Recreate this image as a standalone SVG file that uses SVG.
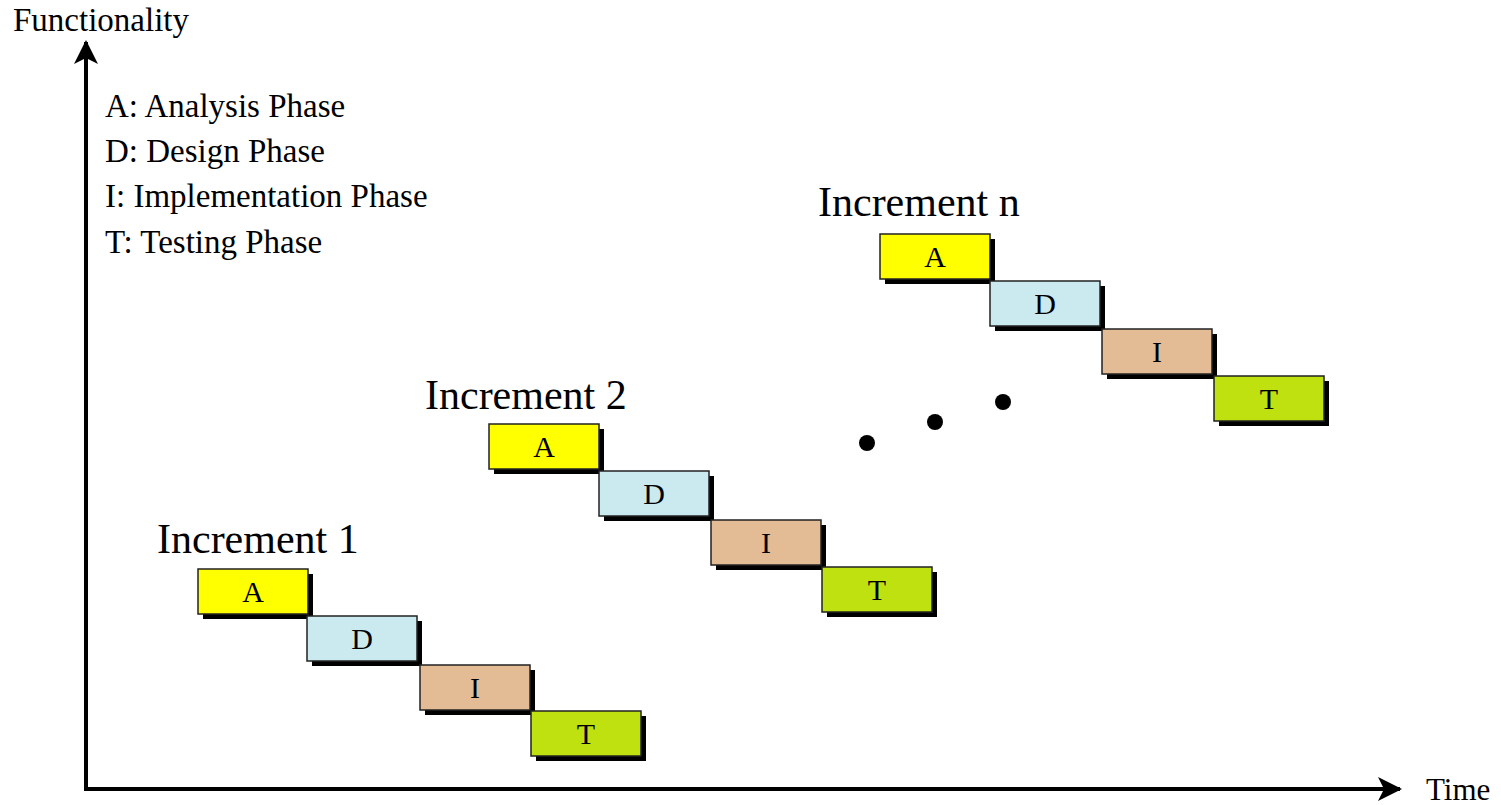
<svg xmlns="http://www.w3.org/2000/svg" width="1501" height="805" viewBox="0 0 1501 805">
<defs>
<style>
text{font-family:"Liberation Serif","Times New Roman",serif;fill:#000}
.sh{fill:#000}
.bx{stroke:#222;stroke-width:1.5}
.a{fill:#ffff00}.d{fill:#cbeaf0}.i{fill:#e3bb94}.t{fill:#bfe10f}
.lb{font-size:30px;text-anchor:middle}
.inc{font-size:42px}
.leg{font-size:33px}
.ax{stroke:#000;stroke-width:4;fill:none}
</style>
<marker id="ah" viewBox="0 0 24 24" refX="22" refY="12" markerWidth="24" markerHeight="24" markerUnits="userSpaceOnUse" orient="auto">
<path d="M0,0 L24,12 L0,24 L6,12 Z" fill="#000"/>
</marker>
</defs>
<rect width="1501" height="805" fill="#fff"/>
<g id="axes">
<path class="ax" d="M86,789 L86,42" marker-end="url(#ah)"/>
<path class="ax" d="M84,789 L1400,789" marker-end="url(#ah)"/>
<text x="13" y="31" class="leg">Functionality</text>
<text x="1426" y="800" class="leg" style="font-size:31px">Time</text>
</g>
<g id="legend">
<text x="105" y="117" class="leg">A: Analysis Phase</text>
<text x="105" y="162" class="leg">D: Design Phase</text>
<text x="105" y="207" class="leg">I: Implementation Phase</text>
<text x="105" y="253" class="leg">T: Testing Phase</text>
</g>
<g id="increment1">
<text x="157" y="553" class="inc">Increment 1</text>
<g id="inc1-A"><rect class="sh" x="203" y="574" width="110" height="45"/><rect class="bx a" x="198" y="569" width="110" height="45"/><text class="lb" x="253" y="602">A</text></g>
<g id="inc1-D"><rect class="sh" x="312" y="621" width="110" height="45"/><rect class="bx d" x="307" y="616" width="110" height="45"/><text class="lb" x="362" y="649">D</text></g>
<g id="inc1-I"><rect class="sh" x="425" y="670" width="110" height="45"/><rect class="bx i" x="420" y="665" width="110" height="45"/><text class="lb" x="475" y="698">I</text></g>
<g id="inc1-T"><rect class="sh" x="536" y="716" width="110" height="45"/><rect class="bx t" x="531" y="711" width="110" height="45"/><text class="lb" x="586" y="744">T</text></g>
</g>
<g id="increment2">
<text x="425" y="409" class="inc">Increment 2</text>
<g id="inc2-A"><rect class="sh" x="494" y="429" width="110" height="45"/><rect class="bx a" x="489" y="424" width="110" height="45"/><text class="lb" x="544" y="457">A</text></g>
<g id="inc2-D"><rect class="sh" x="604" y="476" width="110" height="45"/><rect class="bx d" x="599" y="471" width="110" height="45"/><text class="lb" x="654" y="504">D</text></g>
<g id="inc2-I"><rect class="sh" x="716" y="525" width="110" height="45"/><rect class="bx i" x="711" y="520" width="110" height="45"/><text class="lb" x="766" y="553">I</text></g>
<g id="inc2-T"><rect class="sh" x="827" y="572" width="110" height="45"/><rect class="bx t" x="822" y="567" width="110" height="45"/><text class="lb" x="877" y="600">T</text></g>
</g>
<g id="incrementn">
<text x="818" y="216" class="inc">Increment n</text>
<g id="incn-A"><rect class="sh" x="885" y="239" width="110" height="45"/><rect class="bx a" x="880" y="234" width="110" height="45"/><text class="lb" x="935" y="267">A</text></g>
<g id="incn-D"><rect class="sh" x="995" y="286" width="110" height="45"/><rect class="bx d" x="990" y="281" width="110" height="45"/><text class="lb" x="1045" y="314">D</text></g>
<g id="incn-I"><rect class="sh" x="1107" y="334" width="110" height="45"/><rect class="bx i" x="1102" y="329" width="110" height="45"/><text class="lb" x="1157" y="362">I</text></g>
<g id="incn-T"><rect class="sh" x="1219" y="381" width="110" height="45"/><rect class="bx t" x="1214" y="376" width="110" height="45"/><text class="lb" x="1269" y="409">T</text></g>
</g>
<g id="dots">
<circle cx="867" cy="443" r="8"/>
<circle cx="935" cy="422" r="8"/>
<circle cx="1003" cy="402" r="8"/>
</g>
</svg>
